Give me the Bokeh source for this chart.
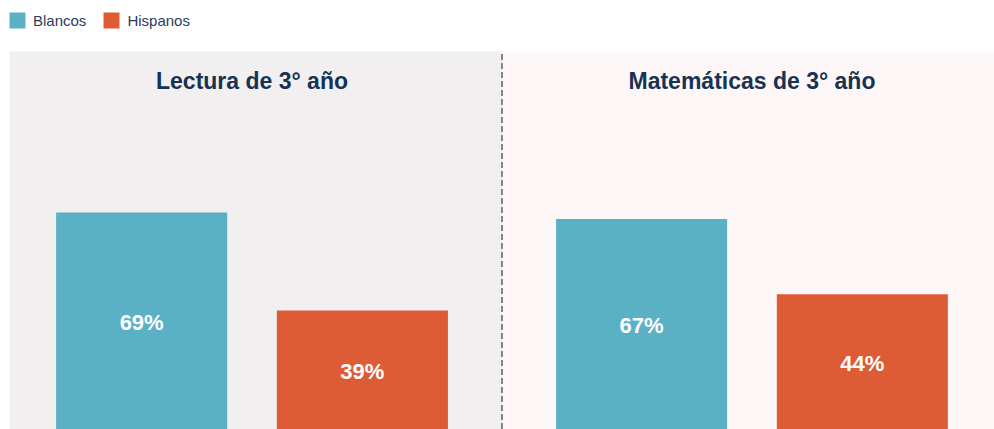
from bokeh.plotting import figure
from bokeh.models import FactorRange, Range1d, BoxAnnotation, Legend, LegendItem, ColumnDataSource
from bokeh.core.properties import value
from bokeh.embed import file_html
from bokeh.resources import INLINE

# ---- data ----
subjects = ["Lectura de 3° año", "Matemáticas de 3° año"]
groups = ["Blancos", "Hispanos"]
blancos = [69, 67]
hispanos = [39, 44]

# ---- style ----
COLORS = {"Blancos": "#5ab0c5", "Hispanos": "#dd5c36"}
PANEL_COLORS = ["#f1eff0", "#fdf8f7"]
NAVY = "#173252"
FONT = "Liberation Sans"
GROUP_PAD = 0.265
RANGE_PAD = 0.0987
BAR_W = 0.775
PANEL_TOP = 118.3
TITLE_Y = 106.5

factors = [(s, g) for s in subjects for g in groups]
x_range = FactorRange(*factors, group_padding=GROUP_PAD, factor_padding=0,
                      range_padding=RANGE_PAD, range_padding_units="absolute")

p = figure(width=994, height=429, x_range=x_range, y_range=Range1d(2.57, 133.9),
           output_backend="svg", toolbar_location=None,
           x_axis_location=None, y_axis_location=None,
           min_border_left=9, min_border_right=0, min_border_top=0, min_border_bottom=0)
p.outline_line_color = None
p.grid.visible = False
p.background_fill_color = "white"
p.border_fill_color = "white"

# panel backgrounds (split at middle of gap between groups)
split = 2 + GROUP_PAD / 2
p.add_layout(BoxAnnotation(right=split, top=PANEL_TOP, fill_color=PANEL_COLORS[0],
                           fill_alpha=1, line_color=None, level="underlay"))
p.add_layout(BoxAnnotation(left=split, top=PANEL_TOP, fill_color=PANEL_COLORS[1],
                           fill_alpha=1, line_color=None, level="underlay"))

p.segment(x0=[split], x1=[split], y0=[0], y1=[PANEL_TOP], line_color="#3d4b5c",
          line_width=1.3, line_dash="6 3")

renderers = {}
for g, vals in (("Blancos", blancos), ("Hispanos", hispanos)):
    src = ColumnDataSource(dict(
        x=[(s, g) for s in subjects],
        top=vals,
        mid=[v / 2 for v in vals],
        lab=[f"{v}%" for v in vals],
    ))
    renderers[g] = p.vbar(x="x", top="top", bottom=0, width=BAR_W, source=src,
                          fill_color=COLORS[g], line_color=None)
    p.text(x="x", y="mid", text="lab", source=src, text_color="white",
           text_font=value(FONT), text_font_style="bold", text_font_size="22px",
           text_align="center", text_baseline="middle", y_offset=-3)

# panel titles
p.text(x=subjects, y=[TITLE_Y] * len(subjects), text=subjects, text_color=NAVY,
       text_font=value(FONT), text_font_style="bold", text_font_size="23px",
       text_align="center", text_baseline="alphabetic", y_offset=-9)

legend = Legend(items=[LegendItem(label=g, renderers=[renderers[g]]) for g in groups],
                location=(-2, 399), orientation="horizontal",
                glyph_width=20, glyph_height=20, label_height=20,
                label_standoff=6, spacing=15, padding=0, margin=0,
                label_text_font=FONT, label_text_font_size="15px",
                label_text_color="#2b3d57", label_text_baseline="middle",
                border_line_color=None, background_fill_alpha=0)
p.add_layout(legend)

open("out.html", "w").write(file_html(p, INLINE))
